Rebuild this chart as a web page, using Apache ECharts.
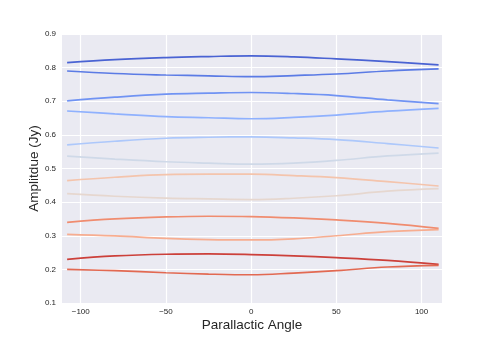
<!DOCTYPE html>
<html>
<head>
<meta charset="utf-8">
<script src="https://cdn.jsdelivr.net/npm/echarts@6/dist/echarts.min.js"></script>
<style>html,body{margin:0;padding:0;background:#fff}#c{width:491px;height:337px}</style>
</head>
<body>
<div id="c"></div>
<script>
const angles = [-108, -80, -50, -25, 0, 25, 50, 80, 110];
const xTicks = [-100, -50, 0, 50, 100];
const yTicks = [0.1, 0.2, 0.3, 0.4, 0.5, 0.6, 0.7, 0.8, 0.9];
const line1  = [0.815, 0.824, 0.830, 0.833, 0.835, 0.832, 0.826, 0.818, 0.808];
const line2  = [0.790, 0.7825, 0.778, 0.7756, 0.773, 0.7765, 0.781, 0.790, 0.796];
const line3  = [0.701, 0.712, 0.721, 0.724, 0.726, 0.723, 0.717, 0.704, 0.693];
const line4  = [0.671, 0.6625, 0.654, 0.651, 0.648, 0.652, 0.659, 0.6705, 0.679];
const line5  = [0.570, 0.581, 0.590, 0.593, 0.594, 0.591, 0.586, 0.574, 0.561];
const line6  = [0.537, 0.528, 0.520, 0.516, 0.513, 0.516, 0.524, 0.5375, 0.546];
const line7  = [0.464, 0.474, 0.482, 0.483, 0.483, 0.479, 0.473, 0.461, 0.448];
const line8  = [0.425, 0.4175, 0.412, 0.4095, 0.4075, 0.4115, 0.419, 0.4325, 0.440];
const line9  = [0.340, 0.350, 0.356, 0.358, 0.357, 0.353, 0.347, 0.337, 0.322];
const line10 = [0.304, 0.2994, 0.292, 0.2885, 0.2875, 0.291, 0.300, 0.312, 0.318];
const line11 = [0.230, 0.240, 0.245, 0.246, 0.244, 0.240, 0.235, 0.227, 0.215];
const line12 = [0.200, 0.196, 0.190, 0.186, 0.184, 0.189, 0.196, 0.207, 0.212];
const allLines = [line1, line2, line3, line4, line5, line6, line7, line8, line9, line10, line11, line12];
const colors = ['#4a63d3', '#5b7be5', '#7093f3', '#8fb1fe', '#adc8fb', '#cfd9e8',
                '#f4c4ac', '#e6d7cf', '#f08c6f', '#f7ad90', '#cc403a', '#e26952'];

const chart = echarts.init(document.getElementById('c'));
const font = 'Liberation Sans, Arial, sans-serif';
chart.setOption({
  animation: false,
  backgroundColor: '#ffffff',
  grid: { left: 62, right: 49, top: 34, bottom: 34, backgroundColor: '#eaeaf2', show: true, borderWidth: 0 },
  xAxis: {
    type: 'value', min: -111, max: 112,
    name: 'Parallactic Angle', nameLocation: 'middle', nameGap: 15, nameMoveOverlap: false,
    nameTextStyle: { fontFamily: font, fontSize: 13.5, color: '#262626' },
    axisLine: { show: false },
    axisTick: { show: false, customValues: xTicks },
    axisLabel: { customValues: xTicks, margin: 5, fontFamily: font, fontSize: 8, color: '#262626',
                 formatter: v => (v < 0 ? '\u2212' + Math.abs(v) : String(v)) },
    splitLine: { show: true, lineStyle: { color: '#ffffff', width: 1.2 } }
  },
  yAxis: {
    type: 'value', min: 0.1, max: 0.9, interval: 0.1,
    name: 'Amplitdue (Jy)', nameLocation: 'middle', nameGap: 21, nameMoveOverlap: false,
    nameTextStyle: { fontFamily: font, fontSize: 13.5, color: '#262626' },
    axisLine: { show: false },
    axisTick: { show: false },
    axisLabel: { margin: 6, fontFamily: font, fontSize: 8, color: '#262626',
                 formatter: v => v.toFixed(1) },
    splitLine: { show: true, lineStyle: { color: '#ffffff', width: 1.2 } }
  },
  series: allLines.map((arr, i) => ({
    type: 'line',
    data: angles.map((a, j) => [a, arr[j]]),
    smooth: 0.4,
    showSymbol: false,
    lineStyle: { color: colors[i], width: 1.7 },
    z: 3
  }))
});
</script>
</body>
</html>
